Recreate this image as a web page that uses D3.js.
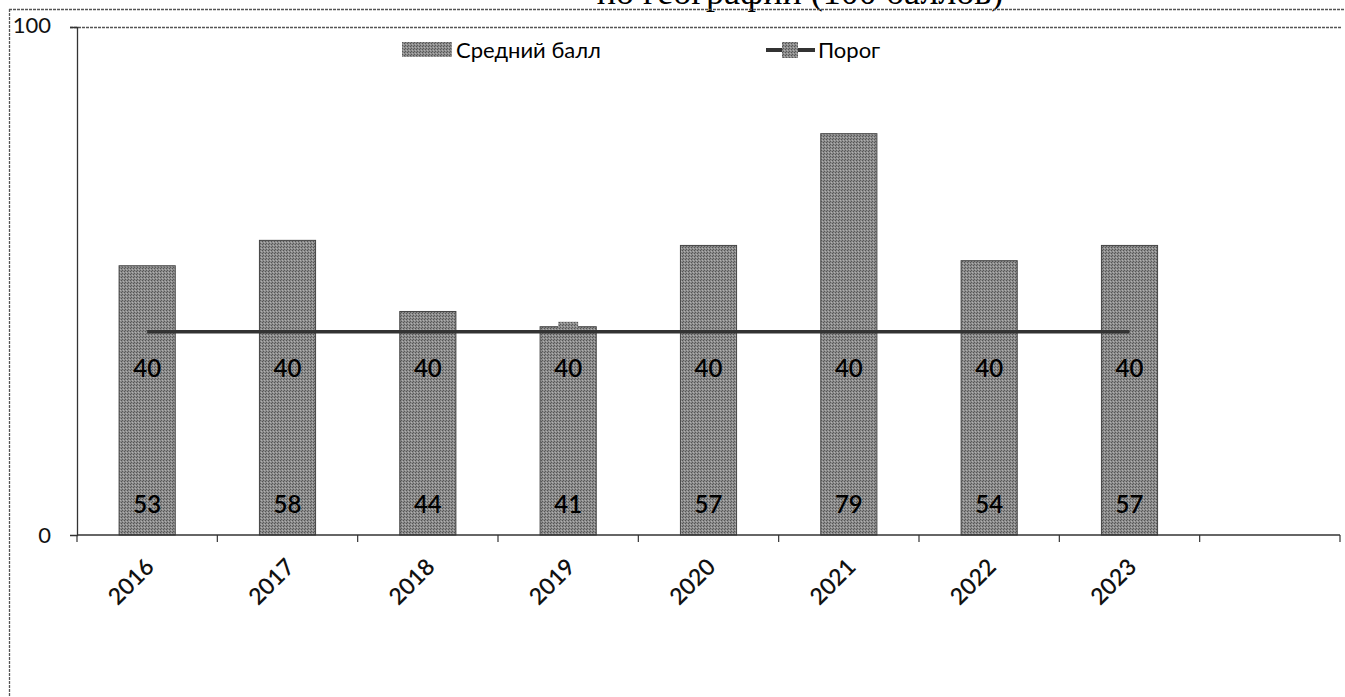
<!DOCTYPE html>
<html>
<head>
<meta charset="utf-8">
<script src="https://cdn.jsdelivr.net/npm/d3@7"></script>
<style>
  body { margin: 0; background: #fff; }
  svg { display: block; }
</style>
</head>
<body>
<div id="chart"></div>
<script>
  // data
  var years = ["2016", "2017", "2018", "2019", "2020", "2021", "2022", "2023", ""];
  var avgScore = [53, 58, 44, 41, 57, 79, 54, 57];
  var threshold = [40, 40, 40, 40, 40, 40, 40, 40];
  var yTicks = [0, 100];

  var W = 1345, H = 697;
  var margin = {top: 27, left: 77, right: 5, bottom: 162};
  var width = 1340 - margin.left,
      height = 535 - margin.top;

  var svg = d3.select("#chart").append("svg")
      .attr("width", W)
      .attr("height", H);

  // dithered gray, like the scan
  var defs = svg.append("defs");
  var pat = defs.append("pattern")
      .attr("id", "grain")
      .attr("width", 3).attr("height", 3)
      .attr("patternUnits", "userSpaceOnUse");
  pat.append("rect").attr("width", 3).attr("height", 3).attr("fill", "#8c8c8c");
  pat.append("rect").attr("x", 0).attr("y", 0).attr("width", 1).attr("height", 1).attr("fill", "#5a5a5a");
  pat.append("rect").attr("x", 2).attr("y", 1).attr("width", 1).attr("height", 1).attr("fill", "#555");
  pat.append("rect").attr("x", 1).attr("y", 2).attr("width", 1).attr("height", 1).attr("fill", "#b0b0b0");

  // cut-off title at the very top
  svg.append("text")
      .attr("x", 800).attr("y", 4)
      .attr("text-anchor", "middle")
      .style("font-family", "'Liberation Serif', serif")
      .style("font-size", "36px")
      .text("по географии (100 баллов)");

  // outer frame (dashed scan lines)
  svg.append("line")
      .attr("x1", 9).attr("x2", W).attr("y1", 9.5).attr("y2", 9.5)
      .attr("stroke", "#555").attr("stroke-width", 1.3).attr("stroke-dasharray", "3,1");
  svg.append("line")
      .attr("x1", 9.5).attr("x2", 9.5).attr("y1", 9).attr("y2", H)
      .attr("stroke", "#555").attr("stroke-width", 1.3).attr("stroke-dasharray", "3,1");

  var g = svg.append("g")
      .attr("transform", "translate(" + margin.left + "," + margin.top + ")");

  var x = d3.scaleBand()
      .domain(years.map(function(d, i) { return i; }))
      .range([0, width])
      .paddingInner(0.6)
      .paddingOuter(0.3);

  var y = d3.scaleLinear()
      .domain([0, 100])
      .range([height, 0]);

  // top line of the plot area
  g.append("line")
      .attr("x1", -7).attr("x2", width + 2)
      .attr("y1", 0.5).attr("y2", 0.5)
      .attr("stroke", "#555").attr("stroke-width", 1.3).attr("stroke-dasharray", "3,1");

  // bars
  g.append("g")
    .selectAll("rect")
    .data(avgScore)
    .enter().append("rect")
      .attr("x", function(d, i) { return x(i); })
      .attr("y", function(d) { return y(d); })
      .attr("width", x.bandwidth())
      .attr("height", function(d) { return height - y(d); })
      .attr("fill", "url(#grain)")
      .attr("stroke", "#444")
      .attr("stroke-width", 1);

  var labelFont = "Lato, 'Open Sans', sans-serif";

  // y axis
  var yAxis = g.append("g")
      .call(d3.axisLeft(y).tickValues(yTicks).tickSize(7).tickPadding(8));
  yAxis.select(".domain").attr("stroke", "#333").attr("stroke-width", 1.3);
  yAxis.selectAll(".tick line").attr("stroke", "#333");
  yAxis.selectAll("text")
      .style("font-family", labelFont)
      .style("font-size", "22px")
      .attr("fill", "#111");
  yAxis.selectAll(".tick").filter(function(d) { return d === 100; })
      .select("text").attr("x", -26).attr("dy", "0.25em");
  yAxis.selectAll(".tick").filter(function(d) { return d === 0; })
      .select("text").attr("x", -26);

  // x axis with ticks on category boundaries
  var xAxis = g.append("g")
      .attr("transform", "translate(0," + height + ")");
  xAxis.append("line")
      .attr("x1", 0).attr("x2", width)
      .attr("y1", 0).attr("y2", 0)
      .attr("stroke", "#333").attr("stroke-width", 1.3);
  var bounds = d3.range(years.length + 1).map(function(i) { return i * width / years.length; });
  xAxis.selectAll(".xt")
    .data(bounds)
    .enter().append("line")
      .attr("x1", function(d) { return d; })
      .attr("x2", function(d) { return d; })
      .attr("y1", 0).attr("y2", 7)
      .attr("stroke", "#333").attr("stroke-width", 1.2);
  xAxis.selectAll(".xl")
    .data(years)
    .enter().append("text")
      .attr("transform", function(d, i) {
        return "translate(" + (x(i) + x.bandwidth() / 2 - 3) + ",22) rotate(-45)";
      })
      .attr("text-anchor", "end")
      .attr("dy", "0.7em")
      .style("font-family", labelFont)
      .style("font-size", "23px")
      .style("font-weight", "600")
      .attr("fill", "#111")
      .text(function(d) { return d; });

  // threshold markers, then the line over them
  g.append("g")
    .selectAll("rect")
    .data(threshold)
    .enter().append("rect")
      .attr("x", function(d, i) { return x(i) + x.bandwidth() / 2 - 10; })
      .attr("y", function(d) { return y(d) - 10; })
      .attr("width", 20).attr("height", 20)
      .attr("fill", "url(#grain)");
  var line = d3.line()
      .x(function(d, i) { return x(i) + x.bandwidth() / 2; })
      .y(function(d) { return y(d); });
  g.append("path")
      .datum(threshold)
      .attr("d", line)
      .attr("fill", "none")
      .attr("stroke", "#333")
      .attr("stroke-width", 3.5);

  // value labels
  g.append("g")
    .selectAll("text")
    .data(threshold)
    .enter().append("text")
      .attr("x", function(d, i) { return x(i) + x.bandwidth() / 2; })
      .attr("y", function(d) { return y(d) + 37; })
      .attr("text-anchor", "middle")
      .attr("dy", "0.35em")
      .style("font-family", labelFont)
      .style("font-size", "24px")
      .style("font-weight", "600")
      .attr("fill", "#000")
      .text(function(d) { return d; });
  g.append("g")
    .selectAll("text")
    .data(avgScore)
    .enter().append("text")
      .attr("x", function(d, i) { return x(i) + x.bandwidth() / 2; })
      .attr("y", height - 30)
      .attr("text-anchor", "middle")
      .attr("dy", "0.35em")
      .style("font-family", labelFont)
      .style("font-size", "24px")
      .style("font-weight", "600")
      .attr("fill", "#000")
      .text(function(d) { return d; });

  // legend
  var legend = svg.append("g");
  legend.append("rect")
      .attr("x", 402).attr("y", 42).attr("width", 50).attr("height", 15)
      .attr("fill", "url(#grain)");
  legend.append("text")
      .attr("x", 456).attr("y", 50).attr("dy", "0.35em")
      .style("font-family", labelFont).style("font-size", "22px")
      .text("Средний балл");
  legend.append("line")
      .attr("x1", 766).attr("x2", 815).attr("y1", 50).attr("y2", 50)
      .attr("stroke", "#333").attr("stroke-width", 4);
  legend.append("rect")
      .attr("x", 782).attr("y", 42).attr("width", 16).attr("height", 16)
      .attr("fill", "url(#grain)");
  legend.append("text")
      .attr("x", 818).attr("y", 50).attr("dy", "0.35em")
      .style("font-family", labelFont).style("font-size", "22px")
      .text("Порог");
</script>
</body>
</html>
